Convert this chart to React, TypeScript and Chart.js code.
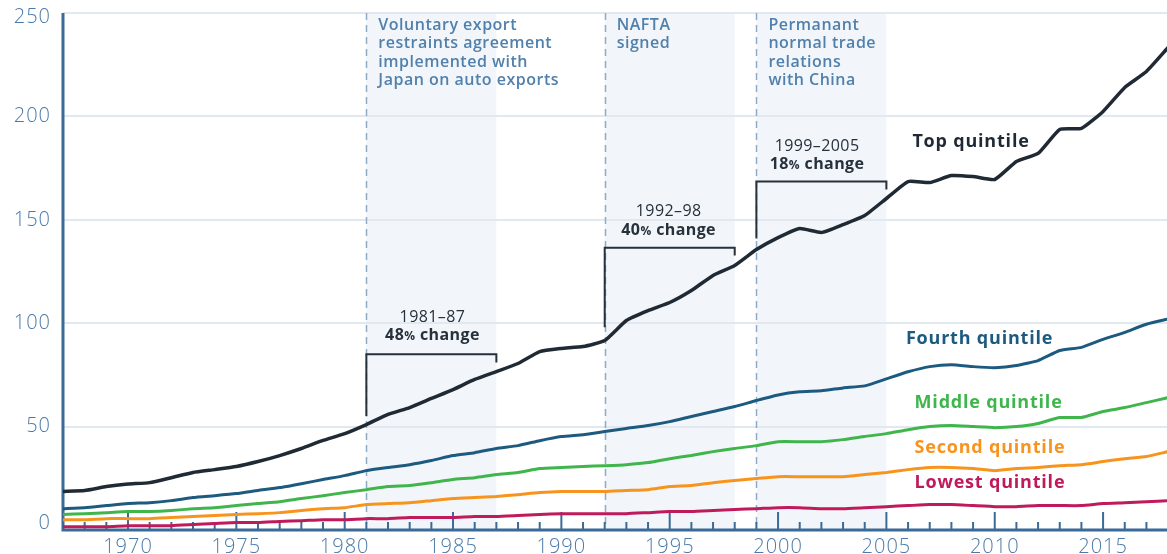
import React, { useEffect, useRef } from "react";
import { Chart, registerables } from "chart.js";
Chart.register(...registerables);

const years = [
  1967, 1968, 1969, 1970, 1971, 1972, 1973, 1974, 1975, 1976, 1977, 1978, 1979,
  1980, 1981, 1982, 1983, 1984, 1985, 1986, 1987, 1988, 1989, 1990, 1991, 1992,
  1993, 1994, 1995, 1996, 1997, 1998, 1999, 2000, 2001, 2002, 2003, 2004, 2005,
  2006, 2007, 2008, 2009, 2010, 2011, 2012, 2013, 2014, 2015, 2016, 2017, 2018,
];

const topQuintile = [
  18.6, 19.1, 21.0, 22.2, 22.9, 25.3, 27.8, 29.2, 30.7, 33.1, 36.0, 39.4, 43.3,
  46.6, 51.0, 55.9, 59.2, 63.6, 67.9, 72.8, 76.6, 80.5, 86.3, 87.8, 88.7, 91.6,
  101.3, 106.1, 110.0, 115.8, 123.1, 127.9, 135.6, 141.4, 145.8, 143.9, 147.7, 152.1, 160.3,
  168.5, 168.0, 171.4, 170.9, 169.5, 178.2, 182.1, 193.7, 194.2, 202.4, 214.0, 221.7, 233.3,
];
const fourthQuintile = [
  10.3, 10.8, 11.8, 12.8, 13.2, 14.2, 15.7, 16.6, 17.6, 19.1, 20.5, 22.4, 24.4,
  26.3, 28.7, 30.2, 31.6, 33.6, 36.0, 37.4, 39.4, 40.8, 43.2, 45.2, 46.1, 47.6,
  49.1, 50.5, 52.4, 54.9, 57.3, 59.7, 62.6, 65.3, 66.8, 67.3, 68.7, 69.7, 73.1,
  76.5, 79.0, 79.9, 79.0, 78.5, 79.5, 81.9, 86.8, 88.3, 92.2, 95.6, 99.5, 102.0,
];
const middleQuintile = [
  7.5, 7.9, 8.4, 8.9, 8.9, 9.4, 10.3, 10.8, 11.8, 12.8, 13.7, 15.2, 16.6,
  18.1, 19.5, 21.0, 21.5, 22.9, 24.4, 25.3, 26.8, 27.8, 29.7, 30.2, 30.7, 31.1,
  31.6, 32.6, 34.5, 36.0, 37.9, 39.4, 40.8, 42.7, 42.7, 42.7, 43.7, 45.2, 46.6,
  48.5, 50.0, 50.5, 50.0, 49.5, 50.0, 51.5, 54.4, 54.4, 57.3, 59.2, 61.6, 64.0,
];
const secondQuintile = [
  5.0, 5.0, 5.5, 5.5, 5.5, 6.0, 6.5, 7.0, 7.5, 7.9, 8.4, 9.4, 10.3,
  10.8, 12.3, 12.8, 13.2, 14.2, 15.2, 15.7, 16.2, 17.1, 18.1, 18.6, 18.6, 18.6,
  19.1, 19.5, 21.0, 21.5, 22.9, 23.9, 24.9, 25.8, 25.8, 25.8, 25.8, 26.8, 27.8,
  29.2, 30.2, 30.2, 29.7, 28.7, 29.7, 30.2, 31.1, 31.6, 33.1, 34.5, 35.5, 37.9,
];
const lowestQuintile = [
  1.6, 1.6, 1.6, 2.1, 2.1, 2.1, 2.6, 3.1, 3.6, 3.6, 4.1, 4.5, 5.0,
  5.0, 5.5, 5.5, 6.0, 6.0, 6.0, 6.5, 6.5, 7.0, 7.5, 7.9, 7.9, 7.9,
  7.9, 8.4, 8.9, 8.9, 9.4, 9.9, 10.3, 10.8, 10.8, 10.3, 10.3, 10.8, 11.3,
  11.8, 12.3, 12.3, 11.8, 11.3, 11.3, 11.8, 11.8, 11.8, 12.8, 13.2, 13.7, 14.2,
];

const yTicks = [0, 50, 100, 150, 200, 250];
const xTickLabels = [1970, 1975, 1980, 1985, 1990, 1995, 2000, 2005, 2010, 2015];

const shadeRanges = [
  [1981, 1987],
  [1992, 1998],
  [1999, 2005],
];
const eventYears = [1981, 1992, 1999];
const eventTexts = [
  ["Voluntary export", "restraints agreement", "implemented with", "Japan on auto exports"],
  ["NAFTA", "signed"],
  ["Permanant", "normal trade", "relations", "with China"],
];

const brackets = [
  { from: 1981, to: 1987, level: 85, leftLow: 55, rightLow: 81, period: "1981–87", pct: "48", tx: 1984.05, ty1: 103, ty2: 94 },
  { from: 1992, to: 1998, level: 136.5, leftLow: 98, rightLow: 132.7, period: "1992–98", pct: "40", tx: 1994.95, ty1: 154, ty2: 144.8 },
  { from: 1999, to: 2005, level: 168.5, leftLow: 141, rightLow: 164.6, period: "1999–2005", pct: "18", tx: 2001.8, ty1: 185.4, ty2: 176.7 },
];

const seriesNames = ["Top quintile", "Fourth quintile", "Middle quintile", "Second quintile", "Lowest quintile"];
const seriesColors = ["#1f2a35", "#1c5a7f", "#3fb54c", "#f7941e", "#bf1a5b"];
const seriesValues = [topQuintile, fourthQuintile, middleQuintile, secondQuintile, lowestQuintile];
const seriesLabelPos = [
  [2006.2, 187.8],
  [2005.9, 92.6],
  [2006.3, 61.6],
  [2006.3, 39.8],
  [2006.3, 22.9],
];

const AXIS = "#3b6a97";
const TICKTEXT = "#4a7aa8";
const EVENTTEXT = "#5080ab";
const BRACKET = "#26313c";

const decor = {
  id: "decor",
  beforeDraw(chart: any) {
    const { ctx, chartArea: ca, scales } = chart;
    const x = scales.x;
    ctx.save();
    ctx.fillStyle = "#f2f6fa";
    for (const [a, b] of shadeRanges) {
      const x1 = x.getPixelForValue(a);
      const x2 = x.getPixelForValue(b);
      ctx.fillRect(x1, ca.top, x2 - x1, ca.bottom - ca.top);
    }
    ctx.restore();
  },
  beforeDatasetsDraw(chart: any) {
    const { ctx, chartArea: ca, scales } = chart;
    const x = scales.x;
    ctx.save();
    ctx.strokeStyle = "#8eaac6";
    ctx.lineWidth = 1.5;
    ctx.setLineDash([7, 5]);
    for (const ev of eventYears) {
      const px = Math.round(x.getPixelForValue(ev)) + 0.5;
      ctx.beginPath();
      ctx.moveTo(px, ca.top);
      ctx.lineTo(px, ca.bottom);
      ctx.stroke();
    }
    ctx.setLineDash([]);
    ctx.strokeStyle = AXIS;
    ctx.lineWidth = 2;
    for (const yr of years) {
      const px = x.getPixelForValue(yr);
      if (px > ca.right) continue;
      const len = yr % 5 === 0 ? 18 : 8;
      ctx.beginPath();
      ctx.moveTo(px, ca.bottom);
      ctx.lineTo(px, ca.bottom - len);
      ctx.stroke();
    }
    ctx.lineWidth = 3;
    ctx.beginPath();
    ctx.moveTo(ca.left, ca.top);
    ctx.lineTo(ca.left, ca.bottom);
    ctx.lineTo(ca.right, ca.bottom);
    ctx.stroke();
    ctx.restore();
  },
  afterDatasetsDraw(chart: any) {
    const { ctx, chartArea: ca, scales } = chart;
    const x = scales.x;
    const y = scales.y;
    ctx.save();
    ctx.fillStyle = TICKTEXT;
    ctx.font = '300 20px "Open Sans"';
    (ctx as any).letterSpacing = "1px";
    ctx.textAlign = "right";
    ctx.textBaseline = "middle";
    for (const v of yTicks) {
      let off = 0;
      if (v === 0) off = -7;
      if (v === 250) off = 4;
      ctx.fillText(String(v), 51, y.getPixelForValue(v) + off);
    }
    ctx.textAlign = "center";
    for (const yr of xTickLabels) {
      ctx.fillText(String(yr), x.getPixelForValue(yr), 547);
    }
    ctx.fillStyle = EVENTTEXT;
    ctx.font = '600 16px "Open Sans"';
    (ctx as any).letterSpacing = "0.5px";
    ctx.textAlign = "left";
    eventTexts.forEach((lines, i) => {
      const px = x.getPixelForValue(eventYears[i]) + 12;
      lines.forEach((ln, j) => {
        ctx.fillText(ln, px, ca.top + 12 + j * 18.5);
      });
    });
    ctx.strokeStyle = BRACKET;
    ctx.lineWidth = 2;
    for (const b of brackets) {
      const x1 = x.getPixelForValue(b.from);
      const x2 = x.getPixelForValue(b.to);
      const yl = y.getPixelForValue(b.level);
      ctx.beginPath();
      ctx.moveTo(x1, y.getPixelForValue(b.leftLow));
      ctx.lineTo(x1, yl);
      ctx.lineTo(x2, yl);
      ctx.lineTo(x2, y.getPixelForValue(b.rightLow));
      ctx.stroke();
      ctx.fillStyle = BRACKET;
      const cx = x.getPixelForValue(b.tx);
      ctx.textAlign = "center";
      ctx.font = '500 16px "Open Sans"';
      (ctx as any).letterSpacing = "0.4px";
      ctx.fillText(b.period, cx, y.getPixelForValue(b.ty1));
      // "NN% change" with a smaller percent sign
      const big = '700 16px "Open Sans"';
      const small = '700 12px "Open Sans"';
      ctx.font = big;
      const w1 = ctx.measureText(b.pct).width;
      const w3 = ctx.measureText(" change").width;
      ctx.font = small;
      const w2 = ctx.measureText("%").width;
      let sx = cx - (w1 + w2 + w3) / 2;
      const ty = y.getPixelForValue(b.ty2);
      ctx.textAlign = "left";
      ctx.font = big;
      ctx.fillText(b.pct, sx, ty);
      sx += w1;
      ctx.font = small;
      ctx.fillText("%", sx, ty + 1);
      sx += w2;
      ctx.font = big;
      ctx.fillText(" change", sx, ty);
    }
    ctx.textAlign = "left";
    ctx.font = '700 18px "Open Sans"';
    (ctx as any).letterSpacing = "0.8px";
    seriesNames.forEach((n, i) => {
      ctx.fillStyle = seriesColors[i];
      const [lx, ly] = seriesLabelPos[i];
      ctx.fillText(n, x.getPixelForValue(lx), y.getPixelForValue(ly));
    });
    ctx.restore();
  },
};

export default function App() {
  const canvasRef = useRef<HTMLCanvasElement | null>(null);
  useEffect(() => {
    if (!canvasRef.current) return;
    const datasets = seriesNames.map((name, i) => ({
      label: name,
      data: years.map((yr, k) => ({ x: yr, y: seriesValues[i][k] })),
      borderColor: seriesColors[i],
      backgroundColor: seriesColors[i],
      borderWidth: i === 0 ? 3.5 : 3,
      pointRadius: 0,
      tension: 0.15,
      fill: false,
    }));
    const chart = new Chart(canvasRef.current, {
      type: "line",
      data: { datasets: [...datasets].reverse() },
      options: {
        responsive: true,
        maintainAspectRatio: false,
        animation: false,
        layout: { padding: { top: 13, left: 0, right: 0, bottom: 0 } },
        plugins: { legend: { display: false }, tooltip: { enabled: false } },
        scales: {
          x: {
            type: "linear",
            min: 1967,
            max: 2017.95,
            grid: { display: false },
            border: { display: false },
            ticks: { display: false },
            afterFit: (s: any) => {
              s.height = 24;
            },
          },
          y: {
            min: 0,
            max: 250,
            ticks: { display: false, stepSize: 50 },
            grid: { color: "#e1e8f0", lineWidth: 2, drawTicks: false },
            border: { display: false },
            afterFit: (s: any) => {
              s.width = 63;
            },
          },
        },
      },
      plugins: [decor],
    });
    return () => chart.destroy();
  }, []);
  return (
    <div style={{ position: "fixed", left: 0, top: 0, width: 1167, height: 554, background: "#fff" }}>
      <canvas ref={canvasRef} />
    </div>
  );
}
